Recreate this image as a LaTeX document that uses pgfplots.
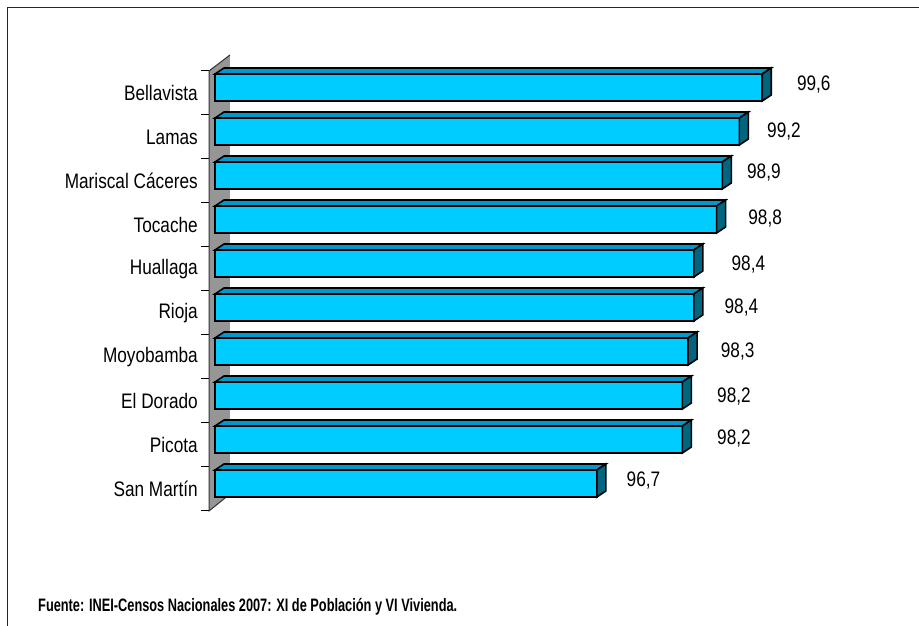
\documentclass[border=0pt]{standalone}
\usepackage{fontspec}
\setmainfont{Liberation Sans}[FakeStretch=0.82]
\newfontfamily\footfont{Liberation Sans}[FakeStretch=0.71]
\usepackage{pgfplots}
\usepackage{pgfplotstable}
\pgfplotsset{compat=1.18}
\definecolor{barfront}{HTML}{00CCFF}
\definecolor{bartop}{HTML}{0099CC}
\definecolor{barside}{HTML}{006680}
\definecolor{wallgray}{HTML}{969696}

% c: category index, v: value, lx/ly: label offsets (pt)
\pgfplotstableread{
c v lx ly
0 96.7 29 8.5
1 98.2 34 6.5
2 98.2 34 4
3 98.3 32 5
4 98.4 30 5.5
5 98.4 37 4.5
6 98.8 31 6.5
7 98.9 24 8.5
8 99.2 27 5.5
9 99.6 34 8.5
}\datatable

\pgfdeclareplotmark{bar3d}{%
  \pgfpathmoveto{\pgfpoint{-\bval*57pt}{19pt}}%
  \pgfpathlineto{\pgfpoint{0pt}{19pt}}%
  \pgfpathlineto{\pgfpoint{9pt}{25pt}}%
  \pgfpathlineto{\pgfpoint{9pt-\bval*57pt}{25pt}}%
  \pgfpathclose
  \pgfsetfillcolor{bartop}%
  \pgfusepath{fill,stroke}%
  \pgfpathmoveto{\pgfpoint{0pt}{-8pt}}%
  \pgfpathlineto{\pgfpoint{0pt}{19pt}}%
  \pgfpathlineto{\pgfpoint{9pt}{25pt}}%
  \pgfpathlineto{\pgfpoint{9pt}{-2pt}}%
  \pgfpathclose
  \pgfsetfillcolor{barside}%
  \pgfusepath{fill,stroke}%
}

\begin{document}
\begin{tikzpicture}
\useasboundingbox (0,0) rectangle (919pt,626pt);
\draw[line width=1.5pt, color=black!85] (7.5pt,0) -- (7.5pt,618.5pt) -- (919pt,618.5pt);
\begin{axis}[
  at={(209pt,115pt)}, anchor=south west,
  scale only axis, x=57pt, y=44pt,
  xmin=-0.10526, xmax=10, ymin=-0.5, ymax=9.5,
  clip=false,
  axis line style={draw=none},
  xtick=\empty,
  ytick={0,...,9},
  yticklabels={San Martín,Picota,El Dorado,Moyobamba,Rioja,Huallaga,Tocache,Mariscal Cáceres,Lamas,Bellavista},
  minor ytick={-0.5,0.5,...,9.5},
  ytick pos=left,
  tick align=outside,
  major tick length=0pt,
  minor tick length=8pt,
  minor tick style={black, line width=1pt},
  yticklabel style={font=\fontsize{21}{25}\selectfont, inner sep=0pt, xshift=-11pt},
  /pgf/number format/assume math mode=true,
]
\fill[wallgray] (axis cs:-0.10526,-0.5) -- (axis cs:-0.10526,9.5) -- (axis cs:0.263,9.864) -- (axis cs:0.263,-0.114) -- cycle;
\draw[black!80, line width=1pt] (axis cs:0.263,-0.114) -- (axis cs:-0.10526,-0.5) -- (axis cs:-0.10526,9.5) -- (axis cs:0.263,9.864);

\addplot[xbar, bar width=27pt, bar shift=5.5pt, fill=barfront, draw=black, line width=1.6pt,
  nodes near coords={\pgfmathprintnumber[fixed,fixed zerofill,precision=1,use comma]{\pgfplotspointmeta}},
  point meta=explicit,
  visualization depends on={\thisrow{lx} \as \labx},
  visualization depends on={\thisrow{ly} \as \laby},
  every node near coord/.append style={font=\fontsize{21}{25}\selectfont, anchor=west, inner sep=0pt, xshift=\labx pt, yshift=\laby pt, text=black},
] table[x expr=\thisrow{v}-90, y=c, meta=v] {\datatable};

\addplot[scatter, only marks, mark=bar3d,
  scatter/use mapped color={draw=black, fill=black},
  mark options={line width=1.6pt},
  point meta=explicit,
  visualization depends on={\thisrow{v}-90 \as \bval},
] table[x expr=\thisrow{v}-90, y=c, meta=v] {\datatable};
\end{axis}
\node[anchor=base west, inner sep=0pt, font=\footfont\bfseries\fontsize{18}{20}\selectfont] at (38pt,14pt) {Fuente: INEI-Censos Nacionales 2007: XI de Población y VI Vivienda.};
\end{tikzpicture}
\end{document}
